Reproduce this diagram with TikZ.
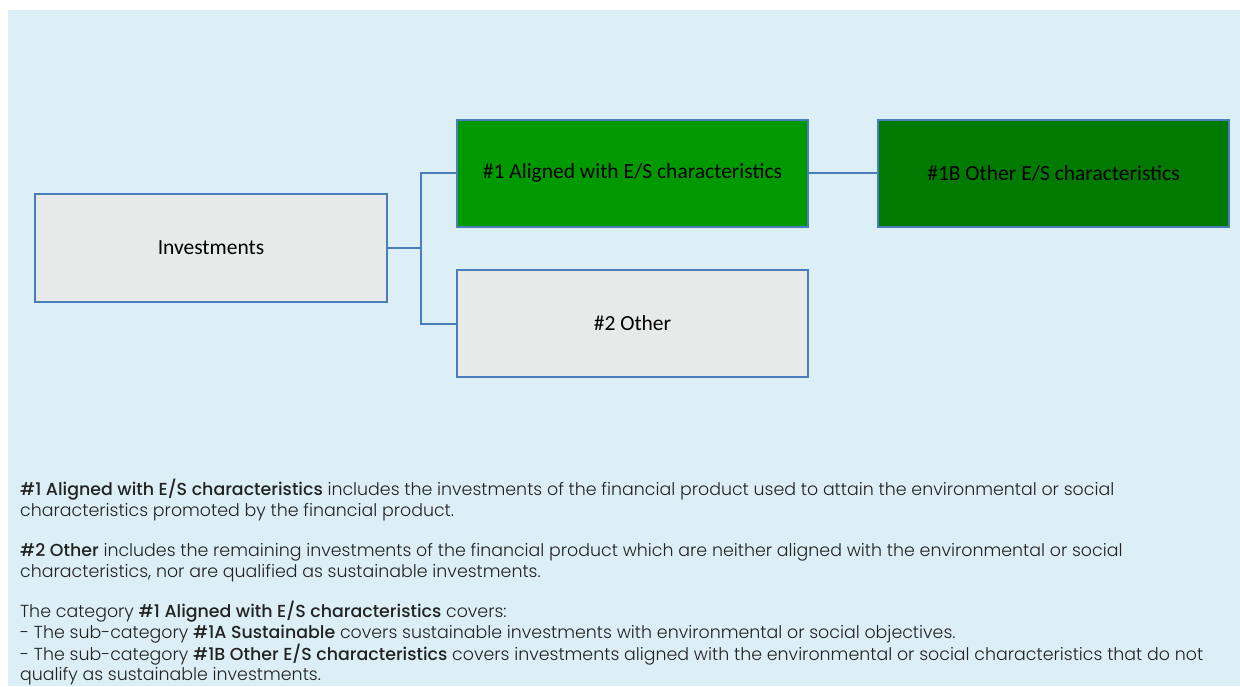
\documentclass[tikz,border=0pt]{standalone}
\usepackage{fontspec}
\setmainfont{Poppins}[UprightFont={* Light},BoldFont={* Medium}]
\newfontfamily\boxfont{Carlito}
\definecolor{bgblue}{HTML}{DCEFF7}
\definecolor{edgeblue}{HTML}{4A7EBB}
\definecolor{boxgray}{HTML}{E8EAEA}
\definecolor{greenA}{HTML}{009900}
\definecolor{greenB}{HTML}{007A00}
\definecolor{txt}{HTML}{222222}
\begin{document}
\begin{tikzpicture}[x=1pt,y=-1pt,
  box/.style={draw=edgeblue,line width=2pt,minimum width=351pt,minimum height=107pt,inner sep=0pt,font=\boxfont\fontsize{21.5}{24}\selectfont,text=black},
  conn/.style={draw=edgeblue,line width=2pt},
  body/.style={anchor=base west,inner sep=0pt,text=txt,font=\fontsize{17.4}{21}\selectfont}]
\useasboundingbox (0,0) rectangle (1240,686);
\fill[bgblue] (8,10) rectangle (1240,686);
\node[box,fill=boxgray,minimum width=352pt,minimum height=108pt] (inv) at (211,248) {Investments};
\node[box,fill=greenA] (a1) at (632.5,173) {\#1 Aligned with E/S characteristics};
\node[box,fill=greenB] (a1b) at (1053.5,173) {\#1B Other E/S characteristics};
\node[box,fill=boxgray] (o2) at (632.5,323.5) {\#2 Other};
\coordinate (j) at (421,248);
\draw[conn] (inv.east) -- (j);
\draw[conn] (j) |- (a1.west);
\draw[conn] (j) |- (o2.west);
\draw[conn] (a1.east) -- (a1b.west);
\node[body] (t1) at (20,495) {\textbf{\#1 Aligned with E/S characteristics} includes the investments of the financial product used to attain the environmental or social};
\node[body] (t2) at (20,516.5) {characteristics promoted by the financial product.};
\node[body] (t3) at (20,556) {\textbf{\#2 Other} includes the remaining investments of the financial product which are neither aligned with the environmental or social};
\node[body] (t4) at (20,577.5) {characteristics, nor are qualified as sustainable investments.};
\node[body] (t5) at (20,617) {The category \textbf{\#1 Aligned with E/S characteristics} covers:};
\node[body] (t6) at (20,638.5) {- The sub-category \textbf{\#1A Sustainable} covers sustainable investments with environmental or social objectives.};
\node[body] (t7) at (20,660) {- The sub-category \textbf{\#1B Other E/S characteristics} covers investments aligned with the environmental or social characteristics that do not};
\node[body] (t8) at (20,680.5) {qualify as sustainable investments.};
\end{tikzpicture}
\end{document}
